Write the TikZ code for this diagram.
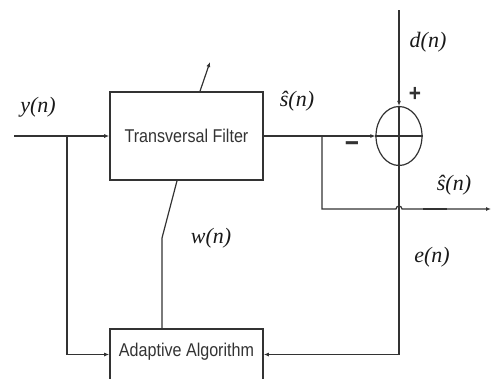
\documentclass[tikz,border=0pt]{standalone}
\usepackage{fontspec}
\setmainfont{Liberation Serif}
\newfontfamily\boxfont[FakeStretch=0.87]{Liberation Sans}
\usetikzlibrary{arrows.meta, calc, shapes.geometric}

\begin{document}
\begin{tikzpicture}[x=1pt, y=-1pt, >={Latex[length=5pt,width=4pt]},
  line width=1.2pt, color=black!80,
  block/.style={draw, line width=1.6pt, minimum width=153pt,
                font=\boxfont\fontsize{18.5}{20}\selectfont},
  sig/.style={font=\fontsize{22}{24}\selectfont\itshape, text=black!90}]
  \useasboundingbox (0,0) rectangle (492,378);

  % Blocks
  \node[block, minimum height=88pt] (filt) at (186.5,136) {Transversal Filter};
  \node[block, anchor=north, minimum height=62pt, inner sep=5pt,
        text height=23pt, text depth=29pt]
    (adapt) at (186.5,328) {Adaptive Algorithm};

  % Summer
  \node[draw, ellipse, minimum width=46pt, minimum height=59pt, inner sep=0pt]
    (sum) at (399,136) {};
  \draw (sum.north) -- (sum.south) (sum.west) -- (sum.east);

  % Input y(n)
  \coordinate (yin) at (14,136);
  \coordinate (yj) at (67,136);
  \draw[->] (yin) -- (filt.west);
  \draw[->] (yj) |- (adapt.mid west);

  % Filter output to summer
  \draw[->] (filt.east) -- (sum.west);

  % Desired signal
  \coordinate (dtop) at (399,10);
  \draw[->] (dtop) -- (sum.north);

  % Output branch with hop over e(n)
  \coordinate (br) at (322,136);
  \coordinate (hop) at (399,209);
  \coordinate (sout) at (491,209);
  \draw[->] (br) |- ($(hop)+(-3,0)$) arc (180:360:3) -- (sout);
  \draw[line width=2.4pt] (423,209) -- (447,209);

  % Error feedback
  \draw[->] (sum.south) |- (adapt.mid east);

  % Weight update
  \coordinate (wk) at (162,238);
  \coordinate (adj) at (210,62);
  \draw (adapt.north -| wk) -- (wk) -- ($(filt.south)+(-9.5,0)$);
  \draw[->] ($(filt.north)+(13.5,0)$) -- (adj);

  % Labels
  \node[sig] (ylab) at (38,107) {y(n)};
  \node[sig] (shat) at (297,101) {ŝ(n)};
  \node[sig] (dlab) at (428,42) {d(n)};
  \node[sig] (sout lab) at (454,185) {ŝ(n)};
  \node[sig] (elab) at (432,257) {e(n)};
  \node[sig] (wlab) at (211,238) {w(n)};
  \node[font=\boxfont\bfseries\fontsize{24}{24}\selectfont] (plus) at (415,94) {+};
  \node[font=\boxfont\bfseries\fontsize{28}{28}\selectfont] (minus) at (352,147) {−};
\end{tikzpicture}
\end{document}
